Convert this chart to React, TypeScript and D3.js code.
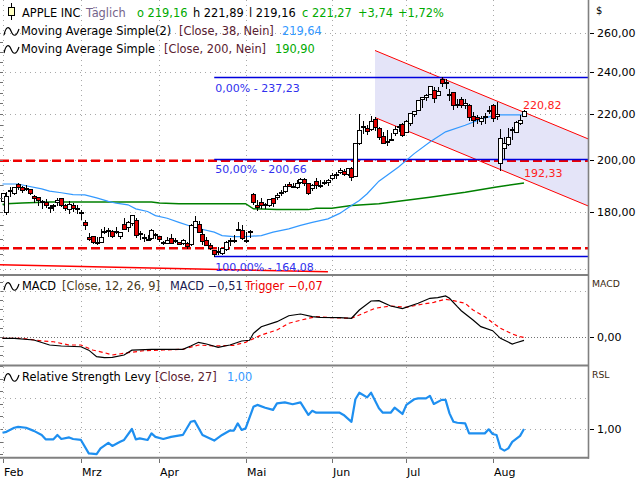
import React from 'react';
import * as d3 from 'd3';

// ---------- data (AAPL, daily, 01.02. - 13.08.) ----------
const monthLabels = ['Feb', 'Mrz', 'Apr', 'Mai', 'Jun', 'Jul', 'Aug'];
const monthStartDay = [0, 20, 40, 62, 84, 103, 125];

const open = [
  183.99, 179.86, 188.15, 186.86, 190.64, 189.39, 188.65, 188.42, 185.77, 185.32, 183.55, 183.42, 181.79, 181.94, 183.48, 185.01, 182.24, 181.10, 182.51, 181.27,
  179.55, 176.15, 170.76, 171.06, 169.15, 169.00, 172.94, 173.15, 172.77, 172.91, 171.17, 175.57, 174.34, 175.72, 177.05, 171.76, 170.57, 170.00, 170.41, 171.75,
  171.19, 169.08, 168.79, 170.29, 169.59, 169.03, 168.70, 168.80, 168.34, 174.26, 175.36, 171.75, 169.61, 168.03, 166.21, 165.52, 165.35, 166.54, 169.53, 169.88, 173.37, 173.33,
  169.58, 172.51, 186.65, 182.35, 183.45, 182.85, 182.56, 184.90, 185.44, 187.51, 187.91, 190.47, 189.51, 189.33, 191.09, 192.27, 190.98, 188.82, 191.51, 189.61, 190.76, 191.44,
  192.90, 194.64, 195.40, 195.69, 194.65, 196.90, 193.65, 207.37, 214.74, 213.85, 213.37, 217.59, 213.93, 210.39, 207.72, 209.15, 211.50, 214.69, 215.77,
  212.09, 216.15, 220.00, 221.65, 227.09, 227.93, 229.30, 231.39, 228.92, 236.48, 235.00, 229.45, 230.28, 224.82, 227.01, 224.37, 224.00, 218.93, 218.70, 216.96, 219.19, 221.44,
  224.37, 219.15, 199.09, 205.30, 206.90, 213.11, 212.10, 216.07, 219.16,
];
const high = [
  186.95, 187.33, 189.25, 189.31, 191.05, 189.54, 189.99, 188.67, 186.21, 185.53, 184.49, 184.85, 182.43, 182.89, 184.96, 185.04, 182.76, 183.92, 183.12, 182.57,
  180.53, 176.90, 172.04, 171.24, 170.73, 173.70, 174.38, 174.03, 173.19, 174.31, 172.62, 177.71, 176.61, 178.67, 177.49, 173.05, 171.94, 171.42, 173.60, 172.23,
  171.25, 169.34, 170.68, 171.92, 170.39, 169.20, 170.08, 169.09, 175.46, 178.36, 176.63, 173.76, 170.65, 168.64, 166.40, 167.26, 167.05, 169.30, 170.61, 171.34, 176.03, 174.99,
  172.71, 173.42, 187.00, 184.20, 184.90, 183.07, 184.66, 185.09, 187.10, 188.30, 190.65, 191.10, 190.81, 191.92, 192.73, 192.82, 191.00, 190.58, 193.00, 192.25, 192.18, 192.57,
  194.99, 195.32, 196.90, 196.50, 196.94, 197.30, 207.16, 220.20, 216.75, 215.17, 218.95, 218.63, 214.24, 211.89, 212.70, 211.38, 214.86, 215.74, 216.07,
  217.51, 220.38, 221.55, 226.45, 227.85, 229.40, 233.08, 232.39, 232.64, 237.23, 236.27, 231.46, 230.44, 226.80, 227.78, 226.94, 224.80, 220.85, 219.49, 219.30, 220.33, 223.82,
  224.48, 225.60, 213.50, 209.99, 213.64, 214.20, 216.78, 219.51, 221.89,
];
const low = [
  183.82, 179.25, 185.84, 186.77, 188.61, 187.35, 188.00, 186.79, 183.51, 182.44, 181.35, 181.67, 180.00, 180.66, 182.46, 182.23, 180.65, 179.56, 180.13, 179.53,
  177.38, 173.79, 169.62, 168.68, 168.49, 168.94, 172.05, 171.01, 170.76, 172.05, 170.29, 173.52, 173.03, 175.09, 170.84, 170.06, 169.45, 169.58, 170.11, 170.51,
  169.48, 168.23, 168.58, 168.82, 168.95, 168.24, 168.35, 167.11, 168.16, 174.21, 172.50, 168.27, 168.00, 166.55, 164.08, 164.77, 164.92, 166.21, 168.15, 169.18, 173.10, 170.00,
  169.11, 170.89, 182.66, 180.42, 181.32, 181.45, 182.11, 182.13, 184.62, 186.29, 187.37, 189.66, 189.18, 189.01, 190.92, 190.27, 186.63, 188.04, 189.10, 189.51, 190.63, 189.91,
  192.52, 193.03, 194.87, 194.17, 194.14, 192.15, 193.63, 206.90, 211.60, 211.30, 212.72, 213.00, 208.85, 207.11, 206.59, 208.61, 210.64, 212.35, 210.30,
  211.92, 215.10, 219.03, 221.65, 223.25, 226.37, 229.25, 225.77, 228.68, 233.09, 232.33, 226.64, 222.27, 223.28, 223.09, 222.68, 217.13, 214.62, 216.01, 215.75, 216.12, 220.63,
  217.02, 217.71, 196.00, 201.07, 206.39, 208.83, 211.97, 215.60, 219.16,
];
const close = [
  186.86, 185.85, 187.68, 189.30, 189.41, 188.32, 188.85, 187.15, 185.04, 184.15, 183.86, 182.31, 181.56, 182.32, 184.37, 182.52, 181.16, 182.63, 181.42, 180.75,
  179.66, 175.10, 170.12, 169.12, 169.00, 170.73, 172.75, 173.23, 171.13, 173.00, 172.62, 173.72, 176.08, 178.67, 171.37, 172.28, 170.85, 169.71, 173.31, 171.48,
  170.03, 168.84, 169.65, 168.82, 169.58, 168.45, 169.67, 167.78, 175.04, 176.55, 172.69, 169.38, 168.00, 167.04, 165.00, 165.84, 166.90, 169.02, 169.89, 169.30, 173.50, 170.33,
  169.30, 173.03, 183.38, 181.71, 182.40, 182.74, 184.57, 183.05, 186.28, 187.43, 189.72, 189.84, 189.87, 191.04, 192.35, 190.90, 186.88, 189.98, 189.99, 190.29, 191.29, 192.25,
  194.03, 194.35, 195.87, 194.48, 196.89, 193.12, 207.15, 213.07, 214.24, 212.49, 216.67, 214.29, 209.68, 207.49, 208.14, 209.07, 213.25, 214.10, 210.62,
  216.75, 220.27, 221.55, 226.34, 227.82, 228.68, 232.98, 227.57, 230.54, 234.40, 234.82, 228.88, 224.18, 224.31, 223.96, 225.01, 218.54, 217.49, 217.96, 218.24, 218.80, 222.08,
  218.36, 219.86, 209.27, 207.23, 209.82, 213.31, 216.24, 217.53, 221.27,
];

// Moving Average 38
const ma38Day = [0, 4, 6, 10, 12, 15, 18, 21, 24, 27, 29, 32, 34, 37, 39, 42, 45, 48, 50, 54, 56, 59, 62, 66, 69, 73, 76, 79, 83, 86, 89, 91, 93, 96, 101, 105, 109, 113, 118, 122, 126, 133];
const ma38Val = [190.5, 190.5, 189.8, 188.6, 187.7, 187.1, 186.4, 186.3, 185.1, 183.8, 183.1, 182.5, 181.0, 180.0, 178.5, 177.5, 176.0, 174.6, 173.8, 172.5, 171.3, 170.9, 170.9, 171.3, 172.5, 173.7, 174.9, 176.0, 177.3, 179.3, 182.2, 184.1, 186.7, 191.6, 197.3, 202.8, 207.7, 212.1, 215.0, 217.7, 219.6, 219.64];

// Moving Average 200
const ma200Day = [0, 1, 5, 12, 38, 40, 45, 62, 64, 70, 78, 80, 84, 89, 96, 104, 109, 118, 126, 133];
const ma200Val = [182.6, 182.9, 183.2, 183.6, 183.6, 183.2, 182.9, 182.9, 181.0, 180.7, 180.7, 181.2, 181.2, 182.2, 182.9, 184.4, 185.4, 187.3, 189.3, 190.9];

// MACD and trigger
const macdDay = [0, 3, 8, 12, 15, 20, 22, 24, 26, 28, 31, 33, 38, 42, 46, 48, 50, 52, 55, 58, 61, 63, 64, 66, 70, 73, 76, 79, 81, 86, 89, 91, 94, 96, 99, 102, 106, 109, 111, 113, 114, 116, 117, 120, 122, 125, 127, 130, 131, 133];
const macdVal = [-0.2, -0.2, -0.46, -1.22, -1.37, -1.48, -2.0, -3.0, -3.15, -3.09, -2.74, -2.0, -1.87, -1.87, -1.87, -1.37, -0.81, -1.07, -1.57, -1.22, -0.61, -0.5, 0.56, 1.57, 2.33, 3.24, 3.5, 3.09, 3.0, 2.94, 2.85, 4.11, 5.48, 5.53, 4.72, 4.31, 5.13, 5.89, 5.98, 6.24, 5.89, 4.61, 4.0, 2.59, 1.57, 0.96, -0.2, -1.07, -0.87, -0.51];
const trigDay = [0, 5, 10, 13, 17, 20, 23, 26, 28, 32, 36, 41, 46, 50, 54, 59, 62, 66, 70, 73, 78, 80, 84, 89, 92, 95, 99, 103, 107, 110, 113, 115, 118, 120, 123, 125, 127, 130, 132, 133];
const trigVal = [-0.2, -0.2, -0.61, -0.72, -1.22, -1.22, -1.98, -2.39, -2.74, -2.39, -2.09, -1.98, -1.87, -1.22, -1.37, -1.26, -0.81, 0.3, 1.07, 2.09, 2.85, 3.09, 2.94, 2.85, 3.6, 4.37, 4.72, 4.52, 4.98, 5.28, 5.74, 5.53, 5.13, 4.11, 3.09, 2.18, 1.32, 0.46, 0.05, -0.07];

// Relative Strength Levy 27
const rslDay = [0, 1, 3, 4, 6, 8, 10, 11, 13, 14, 15, 17, 18, 20, 22, 24, 25, 27, 28, 30, 31, 33, 34, 35, 37, 38, 39, 41, 43, 46, 48, 49, 51, 54, 56, 58, 59, 60, 61, 62, 64, 65, 67, 69, 70, 72, 74, 76, 78, 79, 80, 83, 86, 87, 89, 90, 91, 93, 94, 96, 97, 99, 100, 102, 103, 105, 106, 108, 109, 110, 112, 113, 114, 115, 116, 118, 119, 123, 124, 125, 126, 127, 128, 129, 130, 132, 133];
const rslVal = [0.988, 0.991, 1.004, 1.007, 1.004, 0.994, 0.981, 0.967, 0.967, 0.981, 0.968, 0.973, 0.968, 0.965, 0.922, 0.920, 0.938, 0.956, 0.946, 0.959, 0.965, 1.0, 0.967, 0.970, 0.965, 0.986, 0.975, 0.968, 0.975, 0.981, 1.023, 1.026, 0.981, 0.963, 0.981, 0.995, 0.995, 1.018, 0.997, 1.002, 1.071, 1.077, 1.068, 1.061, 1.082, 1.085, 1.079, 1.085, 1.045, 1.058, 1.052, 1.052, 1.052, 1.045, 1.023, 1.095, 1.116, 1.101, 1.116, 1.066, 1.052, 1.052, 1.068, 1.048, 1.077, 1.095, 1.098, 1.098, 1.106, 1.080, 1.093, 1.093, 1.05, 1.023, 1.020, 1.018, 0.986, 0.986, 0.999, 0.984, 0.981, 0.938, 0.931, 0.938, 0.959, 0.978, 1.0];

// drawing tools
const priceTicks = [160, 180, 200, 220, 240, 260];
const priceLabelTicks = [180, 200, 220, 240, 260];
const fibLabels = ['0,00%', '50,00%', '100,00%'];
const fibPrices = [237.23, 200.66, 164.08];
const fibStartDay = 54;
const supportPrices = [199.8, 166.9];
const trendDay = [-1, 83];
const trendPrice = [161.3, 159.0];
const channelDay = [95, 133];
const channelUpper = [250.8, 220.82];
const channelLower = [218.45, 192.33];
const macdGrid = [0, 7];
const rslGrid = [1.0, 1.1, 1.2];

const FONT = '"DejaVu Sans", Verdana, sans-serif';
const AXIS_X = 588;
const MAIN_BOTTOM = 274;

export default function App() {
  const x = d3.scaleLinear().domain([0, 133]).range([2.5, 524]);
  const yP = d3.scaleLog().domain([180, 260]).range([211.5, 33]);
  const yM = d3.scaleLinear().domain([0, 7]).range([337, 291]);
  const yR = d3.scaleLinear().domain([1, 1.1]).range([429, 397.7]);
  const loc = d3.formatLocale({ decimal: ',', thousands: '.', grouping: [3], currency: ['', ''] });
  const fmt = loc.format('.2f');

  const endDay = x.invert(AXIS_X);

  const lineOf = (days: number[], vals: number[], ys: (v: number) => number) =>
    d3.line<number>().x((_, i) => x(days[i])).y((v) => ys(v))(vals) || '';

  // channel in log space
  const chU = d3.scaleLinear().domain(channelDay).range(channelUpper.map(Math.log));
  const chL = d3.scaleLinear().domain(channelDay).range(channelLower.map(Math.log));
  const chDays = [channelDay[0], endDay];
  const upperPts = chDays.map((d) => [x(d), yP(Math.exp(chU(d)))] as [number, number]);
  const lowerPts = chDays.map((d) => [x(d), yP(Math.exp(chL(d)))] as [number, number]);
  const poly = [...upperPts, ...lowerPts.slice().reverse()];

  const monthX = monthStartDay.map((d) => Math.round(x(d)) + 0.5);

  const gridDot = { stroke: '#a8a8a8', strokeWidth: 1, strokeDasharray: '1,4' };

  // left minor ticks
  const mainMinor = d3.range(165, 260, 5);
  const macdMinor = d3.range(-4.2, 9.5, 1.4);
  const rslMinor = d3.range(0.92, 1.22, 0.04);

  const lastDay = close.length - 1;
  const HF = 11.4;

  return (
    <svg width={640} height={480} style={{ position: 'absolute', left: 0, top: 0, background: '#fff' }} fontFamily={FONT}>
      <defs>
        <clipPath id="mainClip"><rect x={0} y={0} width={AXIS_X} height={MAIN_BOTTOM} /></clipPath>
        <clipPath id="macdClip"><rect x={0} y={276} width={AXIS_X} height={88} /></clipPath>
        <clipPath id="rslClip"><rect x={0} y={367} width={AXIS_X} height={90} /></clipPath>
      </defs>
      <rect x={0} y={0} width={640} height={480} fill="#fff" />

      {/* ---------- main panel ---------- */}
      <g clipPath="url(#mainClip)">
        {priceTicks.map((p) => (
          <line key={p} x1={0} x2={AXIS_X} y1={Math.round(yP(p)) + 0.5} y2={Math.round(yP(p)) + 0.5} {...gridDot} />
        ))}
        {monthX.map((mx, i) => (
          <line key={i} x1={mx} x2={mx} y1={0} y2={MAIN_BOTTOM} {...gridDot} />
        ))}
        {/* channel */}
        <polygon points={poly.map((p) => p.join(',')).join(' ')} fill="#e4e4f8" />
        <line x1={upperPts[0][0]} y1={upperPts[0][1]} x2={upperPts[1][0]} y2={upperPts[1][1]} stroke="#ff0000" strokeWidth={1} />
        <line x1={lowerPts[0][0]} y1={lowerPts[0][1]} x2={lowerPts[1][0]} y2={lowerPts[1][1]} stroke="#ff0000" strokeWidth={1} />

        {/* support lines */}
        {supportPrices.map((p) => (
          <line key={p} x1={0} x2={AXIS_X} y1={yP(p)} y2={yP(p)} stroke="#ee0000" strokeWidth={2.5} strokeDasharray="9,4" />
        ))}
        {/* trend line */}
        <line x1={x(trendDay[0])} x2={x(trendDay[1])} y1={yP(trendPrice[0])} y2={yP(trendPrice[1])} stroke="#ff0000" strokeWidth={1.5} />

        {/* fibonacci */}
        {fibPrices.map((p, i) => (
          <g key={p}>
            <line x1={x(fibStartDay)} x2={AXIS_X} y1={Math.round(yP(p)) + 0.5} y2={Math.round(yP(p)) + 0.5} stroke="#0000dd" strokeWidth={1.3} />
            <text x={x(fibStartDay) + 1} y={yP(p) + 14.5} fontSize={11} fill="#3030ee">
              {`${fibLabels[i]} - ${fmt(p)}`}
            </text>
          </g>
        ))}

        {/* moving averages */}
        <path d={lineOf(ma200Day, ma200Val, yP)} fill="none" stroke="#008000" strokeWidth={1.5} />
        <path d={lineOf(ma38Day, ma38Val, yP)} fill="none" stroke="#3399ff" strokeWidth={1.2} />

        {/* candles */}
        {close.map((c, i) => {
          const cx = Math.round(x(i));
          const o = open[i];
          const top = Math.round(yP(Math.max(o, c)));
          const bot = Math.round(yP(Math.min(o, c)));
          return (
            <g key={i}>
              <line x1={cx + 0.5} x2={cx + 0.5} y1={Math.round(yP(high[i]))} y2={Math.round(yP(low[i])) + 1} stroke="#000" strokeWidth={1} />
              <rect x={cx - 1.5} y={top + 0.5} width={4} height={Math.max(bot - top, 1)} fill={c >= o ? '#fff' : '#e00000'} stroke="#000" strokeWidth={1} />
            </g>
          );
        })}

        {/* channel labels */}
        <text x={x(lastDay) - 1} y={yP(Math.exp(chU(lastDay))) - 3} fontSize={11} fill="#ff2020">{fmt(channelUpper[1])}</text>
        <text x={x(lastDay)} y={yP(Math.exp(chL(lastDay))) - 2} fontSize={11} fill="#ff2020">{fmt(channelLower[1])}</text>
      </g>

      {/* left minor ticks */}
      {mainMinor.map((p) => (
        <line key={'mm' + p} x1={0} x2={3} y1={Math.round(yP(p)) + 0.5} y2={Math.round(yP(p)) + 0.5} stroke="#707070" />
      ))}
      {macdMinor.map((v, i) => (
        <line key={'mc' + i} x1={0} x2={3} y1={Math.round(yM(v)) + 0.5} y2={Math.round(yM(v)) + 0.5} stroke="#707070" />
      ))}
      {rslMinor.map((v, i) => (
        <line key={'rs' + i} x1={0} x2={3} y1={Math.round(yR(v)) + 0.5} y2={Math.round(yR(v)) + 0.5} stroke="#707070" />
      ))}

      {/* header */}
      <g fontSize={HF}>
        <line x1={11.5} x2={11.5} y1={3} y2={20} stroke="#000" />
        <rect x={8.5} y={7.5} width={6} height={8} fill="#ffffc0" stroke="#000" />
        <text y={17}>
          <tspan x={22} fill="#000">APPLE INC</tspan>
          <tspan x={86} fill="#74648a">Täglich</tspan>
          <tspan x={137} fill="#00aa00">o {fmt(open[lastDay])}</tspan>
          <tspan x={193} fill="#000">h {fmt(high[lastDay])}</tspan>
          <tspan x={249} fill="#000">l {fmt(low[lastDay])}</tspan>
          <tspan x={302} fill="#00aa00">c {fmt(close[lastDay])}</tspan>
          <tspan x={358} fill="#00aa00">+{fmt(close[lastDay] - close[lastDay - 1])}</tspan>
          <tspan x={398} fill="#00aa00">+{fmt(((close[lastDay] - close[lastDay - 1]) / close[lastDay - 1]) * 100)}%</tspan>
        </text>
        <path d="M4,35 C6,26 9,26 11,31 S16,38 19,29" fill="none" stroke="#000" strokeWidth={1.2} />
        <text y={35}>
          <tspan x={21} fill="#000">Moving Average Simple(2)</tspan>
          <tspan x={179} fill="#5a2030">[Close, 38, Nein]</tspan>
          <tspan x={282} fill="#3399ff">{fmt(ma38Val[ma38Val.length - 1])}</tspan>
        </text>
        <path d="M4,53 C6,44 9,44 11,49 S16,56 19,47" fill="none" stroke="#000" strokeWidth={1.2} />
        <text y={52.5}>
          <tspan x={21} fill="#000">Moving Average Simple</tspan>
          <tspan x={164} fill="#5a2030">[Close, 200, Nein]</tspan>
          <tspan x={275} fill="#00aa00">{fmt(ma200Val[ma200Val.length - 1])}</tspan>
        </text>
      </g>

      {/* ---------- MACD panel ---------- */}
      <g clipPath="url(#macdClip)">
        {monthX.map((mx, i) => (
          <line key={i} x1={mx} x2={mx} y1={276} y2={365} {...gridDot} />
        ))}
        {macdGrid.map((v) => (
          <line key={v} x1={0} x2={AXIS_X} y1={Math.round(yM(v)) + 0.5} y2={Math.round(yM(v)) + 0.5}
            stroke={v === 0 ? '#707070' : '#a8a8a8'} strokeDasharray={v === 0 ? '1,2' : '1,4'} />
        ))}
        <path d={lineOf(trigDay, trigVal, yM)} fill="none" stroke="#ff0000" strokeWidth={1.2} strokeDasharray="4,3" />
        <path d={lineOf(macdDay, macdVal, yM)} fill="none" stroke="#000" strokeWidth={1.2} />
      </g>
      <g fontSize={HF}>
        <path d="M4,290 C6,281 9,281 11,286 S16,293 19,284" fill="none" stroke="#000" strokeWidth={1.2} />
        <text y={290}>
          <tspan x={22} fill="#000">MACD</tspan>
          <tspan x={62} fill="#4a3a20">[Close, 12, 26, 9]</tspan>
          <tspan x={170} fill="#1a1a50">MACD {fmt(macdVal[macdVal.length - 1])}</tspan>
          <tspan x={245} fill="#ee0000">Trigger {fmt(trigVal[trigVal.length - 1])}</tspan>
        </text>
      </g>

      {/* ---------- RSL panel ---------- */}
      <g clipPath="url(#rslClip)">
        {monthX.map((mx, i) => (
          <line key={i} x1={mx} x2={mx} y1={367} y2={457} {...gridDot} />
        ))}
        {rslGrid.map((v) => (
          <line key={v} x1={0} x2={AXIS_X} y1={Math.round(yR(v)) + 0.5} y2={Math.round(yR(v)) + 0.5} {...gridDot} />
        ))}
        <path d={lineOf(rslDay, rslVal, yR)} fill="none" stroke="#1e8ff0" strokeWidth={2.2} strokeLinejoin="round" />
      </g>
      <g fontSize={HF}>
        <path d="M4,381 C6,372 9,372 11,377 S16,384 19,375" fill="none" stroke="#000" strokeWidth={1.2} />
        <text y={381}>
          <tspan x={22} fill="#000">Relative Strength Levy</tspan>
          <tspan x={155} fill="#5a2030">[Close, 27]</tspan>
          <tspan x={227} fill="#3399ff">{fmt(rslVal[rslVal.length - 1])}</tspan>
        </text>
      </g>

      {/* ---------- frames ---------- */}
      <line x1={0} x2={AXIS_X} y1={275} y2={275} stroke="#808080" strokeWidth={2} />
      <line x1={0} x2={AXIS_X} y1={365.5} y2={365.5} stroke="#808080" strokeWidth={2} />
      <line x1={0} x2={AXIS_X + 1} y1={457.7} y2={457.7} stroke="#808080" strokeWidth={2} />
      <line x1={AXIS_X + 0.5} x2={AXIS_X + 0.5} y1={0} y2={458.7} stroke="#808080" strokeWidth={1.6} />

      {/* right axis */}
      <g fontSize={11} fill="#000">
        <text x={596} y={14} fontSize={10}>$</text>
        {priceLabelTicks.map((p) => (
          <g key={p}>
            <line x1={590} x2={594} y1={Math.round(yP(p)) + 0.5} y2={Math.round(yP(p)) + 0.5} stroke="#000" />
            <text x={597} y={yP(p) + 4}>{fmt(p)}</text>
          </g>
        ))}
        <text x={592} y={287} fontSize={9.3} fill="#3a2a10">MACD</text>
        <line x1={590} x2={594} y1={Math.round(yM(0)) + 0.5} y2={Math.round(yM(0)) + 0.5} stroke="#000" />
        <text x={597} y={yM(0) + 4}>{fmt(0)}</text>
        <text x={592} y={378} fontSize={9.3} fill="#3a2a10">RSL</text>
        <line x1={590} x2={594} y1={Math.round(yR(1)) + 0.5} y2={Math.round(yR(1)) + 0.5} stroke="#000" />
        <text x={597} y={yR(1) + 4}>{fmt(1)}</text>
      </g>

      {/* bottom axis */}
      <g fontSize={11} fill="#000">
        {monthX.map((mx, i) => (
          <g key={i}>
            <line x1={mx} x2={mx} y1={459} y2={463} stroke="#707070" />
            <text x={mx + 0.5} y={476}>{monthLabels[i]}</text>
          </g>
        ))}
      </g>
    </svg>
  );
}
